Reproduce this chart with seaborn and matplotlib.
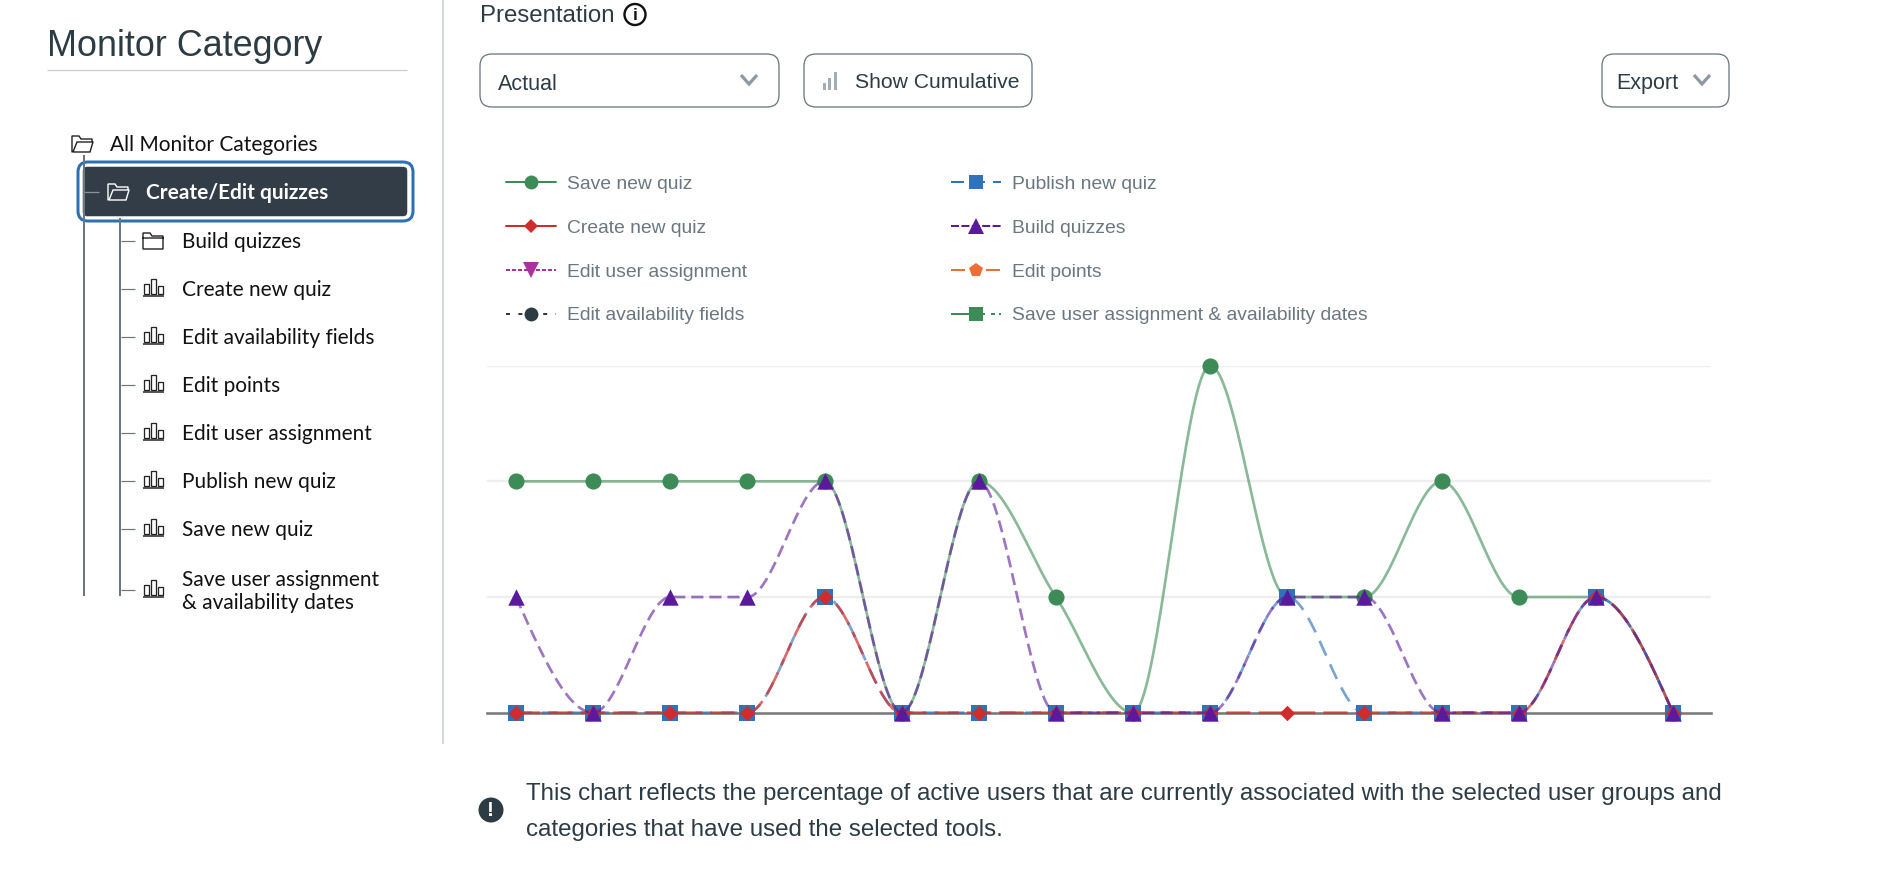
import numpy as np
import pandas as pd
import matplotlib
matplotlib.use("Agg")
import matplotlib.pyplot as plt
from matplotlib.lines import Line2D
from matplotlib.patches import FancyBboxPatch, Rectangle, Circle
import seaborn as sns

# data
points = list(range(16))
save_new_quiz = [2, 2, 2, 2, 2, 0, 2, 1, 0, 3, 1, 1, 2, 1, 1, 0]
publish_new_quiz = [0, 0, 0, 0, 1, 0, 0, 0, 0, 0, 1, 0, 0, 0, 1, 0]
create_new_quiz = [0, 0, 0, 0, 1, 0, 0, 0, 0, 0, 0, 0, 0, 0, 1, 0]
build_quizzes = [1, 0, 1, 1, 2, 0, 2, 0, 0, 0, 1, 1, 0, 0, 1, 0]
grid_levels = [1, 2, 3]

tree_items = ["Create new quiz", "Edit availability fields", "Edit points",
              "Edit user assignment", "Publish new quiz", "Save new quiz"]
note_lines = ["This chart reflects the percentage of active users that are currently associated with the selected user groups and",
              "categories that have used the selected tools."]

GREEN = "#3d8b57"
BLUE = "#2f74b8"
RED = "#d02c2c"
PURPLE = "#5b1a9c"
MAGENTA = "#a9329f"
ORANGE = "#ec6f36"
DARK = "#2d3b45"
GRAY = "#6b7780"

W, H = 1882, 874
sns.set_theme(style="white")
plt.rcParams["font.family"] = ["Liberation Sans", "DejaVu Sans"]


def monotone_curve(xs, ys, n=40):
    # same shape as a monotone-x spline
    xs = np.asarray(xs, dtype=float)
    ys = np.asarray(ys, dtype=float)
    s = np.diff(ys) / np.diff(xs)
    t = np.zeros(len(xs))
    for i in range(1, len(xs) - 1):
        p = (s[i - 1] + s[i]) / 2
        t[i] = (np.sign(s[i - 1]) + np.sign(s[i])) * min(abs(s[i - 1]), abs(s[i]), 0.5 * abs(p))
    t[0] = (3 * s[0] - t[1]) / 2
    t[-1] = (3 * s[-1] - t[-2]) / 2
    out_x, out_y = [], []
    for i in range(len(xs) - 1):
        u = np.linspace(0, 1, n)
        h = xs[i + 1] - xs[i]
        y = ((2 * u**3 - 3 * u**2 + 1) * ys[i] + (u**3 - 2 * u**2 + u) * h * t[i]
             + (-2 * u**3 + 3 * u**2) * ys[i + 1] + (u**3 - u**2) * h * t[i + 1])
        out_x.extend(xs[i] + u * h)
        out_y.extend(y)
    return np.array(out_x), np.array(out_y)


fig = plt.figure(figsize=(W / 100, H / 100), dpi=100, facecolor="white")

# page layer in pixel coordinates
page = fig.add_axes([0, 0, 1, 1], zorder=0)
page.set_xlim(0, W)
page.set_ylim(H, 0)
page.axis("off")


def px(v):
    return v * 0.72


def rule(x0, y0, x1, y1, color, width=1.5, **kw):
    page.plot([x0, x1], [y0, y1], color=color, lw=px(width), solid_capstyle="butt", **kw)


def rounded(x0, y0, x1, y1, r, face="none", edge=GRAY, width=1.3):
    page.add_patch(FancyBboxPatch((x0 + r, y0 + r), x1 - x0 - 2 * r, y1 - y0 - 2 * r,
                                  boxstyle=f"round,pad={r},rounding_size={r}",
                                  fc=face, ec=edge, lw=px(width)))


def chevron(cx, cy):
    page.plot([cx - 8, cx, cx + 8], [cy - 5, cy + 4, cy - 5], color="#8d98a3", lw=px(3.2),
              solid_capstyle="butt", solid_joinstyle="miter")


def folder(x, y, color, opened=False):
    # y is the vertical middle of the row
    pts = [(x, y - 3), (x, y - 8), (x + 7, y - 8), (x + 9, y - 5), (x + 20, y - 5), (x + 20, y + 8), (x, y + 8), (x, y - 3), (x + 20, y - 3)]
    if opened:
        pts = [(x, y + 8), (x, y - 8), (x + 7, y - 8), (x + 9, y - 5), (x + 20, y - 5), (x + 20, y - 2), (x + 5, y - 2), (x + 1, y + 8), (x + 18, y + 8), (x + 21, y - 2)]
    page.plot(*zip(*pts), color=color, lw=px(1.4), solid_joinstyle="miter")


def bars_icon(x, y):
    for dx, w, h in [(1, 5, 10), (8, 5, 15), (15, 5, 8)]:
        page.add_patch(Rectangle((x + dx, y + 5 - h), w, h, fc="none", ec="#222222", lw=px(1.3)))
    rule(x, y + 7, x + 21, y + 7, "#222222", 1.5)


def tree_text(x, y, s, **kw):
    kw.setdefault("color", "#111111")
    page.text(x, y, s, family="Lato", fontsize=15.0, va="center", ha="left", **kw)


# left tree panel
page.text(47, 47, "Monitor Category", fontsize=25.8, color=DARK, va="center", ha="left")
rule(47, 70, 407, 70, "#cccccc", 1.3)
rule(443, 0, 443, 744, "#c7cdd1", 1.5)

folder(72, 144, "#222222", opened=True)
tree_text(110, 145, "All Monitor Categories")
rule(84, 155, 84, 596, GRAY, 2)
rule(120, 218, 120, 596, GRAY, 2)

rounded(78, 162, 413, 221, 10, edge="#2e6fb0", width=3)
rounded(83, 167, 407, 216, 4, face="#333d47", edge="#333d47", width=0.5)
rule(84, 192, 99, 192, "#8a9299", 1.3)
folder(108, 192, "white", opened=True)
tree_text(146, 193, "Create/Edit quizzes", color="white", fontweight="bold")

rule(121, 241, 135, 241, GRAY, 1.2)
folder(143, 241, "#222222")
tree_text(182, 242, "Build quizzes")
for i, label in enumerate(tree_items):
    y = 289 + 48 * i
    rule(121, y, 135, y, GRAY, 1.2)
    bars_icon(143, y)
    tree_text(182, y + 1, label)
rule(121, 590, 135, 590, GRAY, 1.2)
bars_icon(143, 590)
tree_text(182, 580, "Save user assignment")
tree_text(182, 603, "& availability dates")

# controls above the chart
page.text(480, 16, "Presentation", fontsize=17.3, color=DARK, va="center", ha="left")
page.add_patch(Circle((635, 14.5), 10.5, fc="white", ec="#111111", lw=px(2.4)))
page.text(635, 15, "i", fontsize=12.5, color="#111111", va="center", ha="center", fontweight="bold")

rounded(480, 54, 779, 107, 12)
page.text(498, 85, "Actual", fontsize=15.5, color=DARK, va="center", ha="left")
chevron(749, 80)

rounded(804, 54, 1032, 107, 12)
for k, h in enumerate([7, 12, 18]):
    page.add_patch(Rectangle((823 + k * 5.5, 90 - h), 2.8, h, fc="#a3adb6", ec="none"))
page.text(855, 83, "Show Cumulative", fontsize=15.2, color=DARK, va="center", ha="left")

rounded(1602, 54, 1729, 107, 12)
page.text(1616, 83, "Export", fontsize=15.5, color=DARK, va="center", ha="left")
chevron(1702, 80)

# note under the chart
page.add_patch(Circle((491, 810), 12.5, fc=DARK, ec="none"))
page.text(491, 810, "!", fontsize=15, color="white", va="center", ha="center", fontweight="bold")
page.text(526, 794, note_lines[0], fontsize=17.33, color=DARK, va="center", ha="left")
page.text(526, 830, note_lines[1], fontsize=17.33, color=DARK, va="center", ha="left")

# chart
top_px, base_px, left_px, right_px = 365.7, 712.7, 487, 1711
ax = fig.add_axes([left_px / W, 1 - base_px / H, (right_px - left_px) / W, (base_px - top_px) / H], zorder=1)
ax.patch.set_alpha(0)
ax.set_xlim(-0.376, 15.493)
ax.set_ylim(0, 3)
sns.despine(ax=ax, left=True, top=True, right=True)
ax.spines["bottom"].set_color("#7a7a7a")
ax.spines["bottom"].set_linewidth(px(2.6))
ax.spines["bottom"].set_zorder(1.5)
ax.set_xticks([])
ax.set_yticks([])
for level in grid_levels:
    ax.axhline(level, color="#eeeeee", lw=px(2.4), zorder=1)

series = [
    ("Save new quiz", save_new_quiz, GREEN, "-", "o", 135, 0.6),
    ("Publish new quiz", publish_new_quiz, BLUE, (0, (6, 3.5)), "s", 135, 0.65),
    ("Create new quiz", create_new_quiz, RED, (0, (9, 3)), "D", 62, 0.7),
    ("Build quizzes", build_quizzes, PURPLE, (0, (4.5, 2.2)), "^", 140, 0.6),
]
for k, (name, values, color, dash, marker, size, alpha) in enumerate(series):
    cx, cy = monotone_curve(points, values)
    line_df = pd.DataFrame({"x": cx, "y": cy})
    sns.lineplot(data=line_df, x="x", y="y", ax=ax, color=color, linestyle=dash, lw=px(2.7),
                 alpha=alpha, sort=False, errorbar=None, clip_on=False, zorder=2 + k)
    mark_df = pd.DataFrame({"x": points, "y": values})
    sns.scatterplot(data=mark_df, x="x", y="y", ax=ax, color=color, marker=marker, s=size,
                    linewidth=0, clip_on=False, zorder=2.5 + k)
ax.set_xlabel("")
ax.set_ylabel("")

# legend, column by column
legend_entries = [
    ("Save new quiz", GREEN, "-", "o", 10),
    ("Create new quiz", RED, "-", "D", 7.2),
    ("Edit user assignment", MAGENTA, (0, (2, 1)), "v", 11),
    ("Edit availability fields", DARK, (0, (2, 4.2)), "o", 10),
    ("Publish new quiz", BLUE, (0, (6.5, 4)), "s", 10),
    ("Build quizzes", PURPLE, (0, (4, 1.2)), "^", 11),
    ("Edit points", ORANGE, (0, (7, 10.5)), "p", 10.5),
    ("Save user assignment & availability dates", GREEN, (0, (17, 3, 2, 2)), "s", 10),
]
handles = []
for label, color, dash, marker, ms in legend_entries:
    h = Line2D([], [], color=color, linestyle=dash, lw=px(2), marker=marker, markersize=ms,
               markerfacecolor=color, markeredgewidth=0, label=label)
    handles.append(h)
leg = page.legend(handles=handles, ncol=2, frameon=False, fontsize=13.9, labelcolor=GRAY,
                  loc="upper left", bbox_to_anchor=(506 / W, 1 - 175.5 / H), borderpad=0, borderaxespad=0,
                  handlelength=2.6, handletextpad=0.58, labelspacing=1.36, columnspacing=10.53)

fig.savefig("out.png", dpi=100)
